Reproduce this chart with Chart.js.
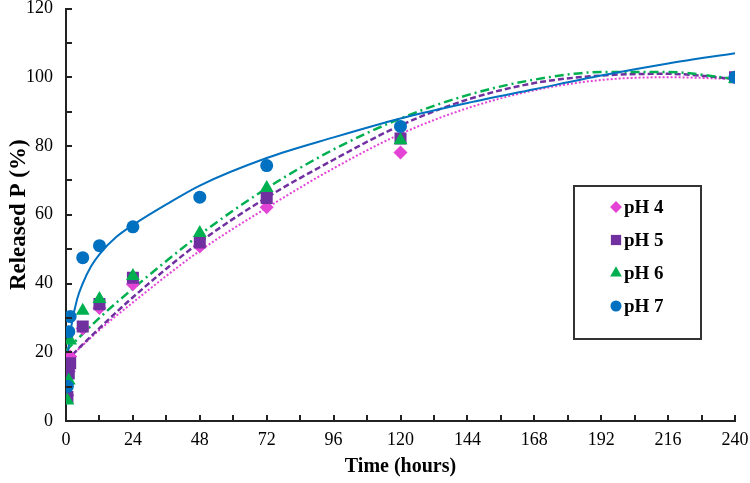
<!DOCTYPE html>
<html>
<head>
<meta charset="utf-8">
<script src="https://cdn.jsdelivr.net/npm/chart.js@4.4.1/dist/chart.umd.min.js"></script>
<style>
  body { margin: 0; background: #fff; }
</style>
</head>
<body>
<canvas id="myChart" width="750" height="483"></canvas>
<script>
// sampling times (hours)
const times = [0.5, 1, 1.5, 6, 12, 24, 48, 72, 120, 240];
const ph4 = [7.5, 14.5, 18.8, 26.9, 32.9, 39.8, 50.8, 62.2, 78.1, 100];
const ph5 = [7.0, 13.8, 16.8, 27.5, 34.0, 41.7, 51.9, 64.9, 82.2, 100];
const ph6 = [6.0, 11.8, 23.4, 32.1, 35.5, 42.2, 54.7, 67.8, 81.7, 99.5];
const ph7 = [10.1, 26.0, 30.4, 47.5, 51.0, 56.5, 65.1, 74.3, 85.7, 100];

// trend lines
const fitTimes = [0, 12, 24, 48, 72, 96, 120, 144, 168, 192, 216, 240];
const fit4 = [17.5, 26.5, 34.5, 49.5, 62, 73.5, 83.5, 91, 96.2, 99.2, 100, 99.5];
const fit5 = [17.5, 27, 36, 52, 65, 76, 86, 93.5, 98.3, 100.5, 101, 99.5];
const fit6 = [20.5, 30, 38.5, 54.2, 67.7, 79, 88, 94.8, 99.3, 101.5, 101.5, 99.5];
const fitTimes7 = [0.5, 1, 2, 4, 6, 9, 12, 18, 24, 36, 48, 72, 96, 120, 144, 168, 192, 216, 240];
const fit7 = [17, 22, 28, 35.5, 40, 45, 48.5, 53.5, 57, 63, 68.5, 76.5, 82.5, 88, 92.5, 96.5, 100.5, 104, 107];

const labels = ["pH 4", "pH 5", "pH 6", "pH 7"];
const colors = ["#e444d6", "#7030a0", "#00b050", "#0070c0"];

const serif = "'Liberation Serif', 'Times New Roman', serif";

function pts(xs, ys) {
  return xs.map((x, i) => ({ x: x, y: ys[i] }));
}

const data = {
  datasets: [
    {
      label: labels[0],
      data: pts(times, ph4),
      showLine: false,
      pointStyle: "rectRot",
      pointRadius: 7,
      backgroundColor: colors[0],
      borderColor: colors[0],
      borderWidth: 0,
      order: 3,
    },
    {
      label: labels[1],
      data: pts(times, ph5),
      showLine: false,
      pointStyle: "rect",
      pointRadius: 8.5,
      backgroundColor: colors[1],
      borderColor: colors[1],
      borderWidth: 0,
      order: 2,
    },
    {
      label: labels[2],
      data: pts(times, ph6),
      showLine: false,
      pointStyle: "triangle",
      pointRadius: 8,
      backgroundColor: colors[2],
      borderColor: colors[2],
      borderWidth: 0,
      order: 1,
    },
    {
      label: labels[3],
      data: pts(times, ph7),
      showLine: false,
      pointStyle: "circle",
      pointRadius: 6.5,
      backgroundColor: colors[3],
      borderColor: colors[3],
      borderWidth: 0,
      order: 0,
    },
    {
      label: "fit4",
      data: pts(fitTimes, fit4),
      borderColor: colors[0],
      borderWidth: 2,
      borderDash: [2, 2],
      pointRadius: 0,
      cubicInterpolationMode: "monotone",
      order: 7,
    },
    {
      label: "fit5",
      data: pts(fitTimes, fit5),
      borderColor: colors[1],
      borderWidth: 2.5,
      borderDash: [6, 3],
      pointRadius: 0,
      cubicInterpolationMode: "monotone",
      order: 6,
    },
    {
      label: "fit6",
      data: pts(fitTimes, fit6),
      borderColor: colors[2],
      borderWidth: 2.5,
      borderDash: [9, 4, 2, 4],
      pointRadius: 0,
      cubicInterpolationMode: "monotone",
      order: 5,
    },
    {
      label: "fit7",
      data: pts(fitTimes7, fit7),
      borderColor: colors[3],
      borderWidth: 2,
      pointRadius: 0,
      cubicInterpolationMode: "monotone",
      order: 4,
    },
  ],
};

// tick marks pointing into the plot
const insideTicks = {
  id: "insideTicks",
  afterDraw(chart) {
    const ctx = chart.ctx;
    const xs = chart.scales.x;
    const ys = chart.scales.y;
    ctx.save();
    ctx.strokeStyle = "#222";
    ctx.lineWidth = 2;
    ctx.beginPath();
    xs.ticks.forEach((t) => {
      const px = Math.round(xs.getPixelForValue(t.value));
      ctx.moveTo(px, ys.bottom);
      ctx.lineTo(px, ys.bottom - 6);
    });
    ys.ticks.forEach((t) => {
      const py = Math.round(ys.getPixelForValue(t.value));
      ctx.moveTo(xs.left, py);
      ctx.lineTo(xs.left + 6, py);
    });
    ctx.stroke();
    ctx.restore();
  },
};

// boxed legend inside the plot
const boxLegend = {
  id: "boxLegend",
  afterDraw(chart) {
    const ctx = chart.ctx;
    const left = 574, top = 186, w = 127, h = 153;
    ctx.save();
    ctx.fillStyle = "#fff";
    ctx.fillRect(left, top, w, h);
    ctx.strokeStyle = "#333";
    ctx.lineWidth = 2;
    ctx.strokeRect(left, top, w, h);
    ctx.font = "bold 19px " + serif;
    ctx.textBaseline = "middle";
    ctx.textAlign = "left";
    labels.forEach((lab, i) => {
      const ds = chart.data.datasets[i];
      const cy = top + 21 + i * 33;
      ctx.fillStyle = ds.backgroundColor;
      Chart.helpers.drawPoint(ctx, {
        pointStyle: ds.pointStyle,
        radius: ds.pointRadius * 0.85,
        rotation: 0,
        borderWidth: 0,
      }, 616, cy);
      ctx.fillStyle = "#000";
      ctx.fillText(lab, 624, cy + 1);
    });
    ctx.restore();
  },
};

const config = {
  type: "line",
  data,
  options: {
    responsive: false,
    animation: false,
    layout: {
      padding: { top: 6, right: 15, left: 0, bottom: 0 },
    },
    scales: {
      x: {
        type: "linear",
        min: 0,
        max: 240,
        afterFit: (s) => {
          s.height = 62;
          s.paddingLeft = 0;
          s.paddingRight = 0;
        },
        border: { display: true, color: "#222", width: 2 },
        grid: { display: false, drawTicks: false },
        ticks: {
          stepSize: 12,
          autoSkip: false,
          maxRotation: 0,
          padding: 8,
          color: "#000",
          font: { size: 18, family: serif },
          callback: function (val) {
            return val % 24 === 0 ? String(val) : "";
          },
        },
        title: {
          display: true,
          text: "Time (hours)",
          color: "#000",
          font: { size: 20, weight: "bold", family: serif },
          padding: { top: 0, bottom: 4 },
        },
      },
      y: {
        min: 0,
        max: 120,
        afterFit: (s) => {
          s.width = 66;
          s.paddingTop = 0;
          s.paddingBottom = 0;
        },
        border: { display: true, color: "#222", width: 2 },
        grid: { display: false, drawTicks: false },
        ticks: {
          stepSize: 10,
          autoSkip: false,
          padding: 13,
          color: "#000",
          font: { size: 18, family: serif },
          callback: function (val) {
            return val % 20 === 0 ? String(val) : "";
          },
        },
        title: {
          display: true,
          text: "Released P (%)",
          color: "#000",
          font: { size: 23, weight: "bold", family: serif },
          padding: { top: 5, bottom: 0 },
        },
      },
    },
    plugins: {
      legend: { display: false },
      tooltip: { enabled: false },
    },
  },
  plugins: [insideTicks, boxLegend],
};

new Chart(document.getElementById("myChart"), config);
</script>
</body>
</html>
